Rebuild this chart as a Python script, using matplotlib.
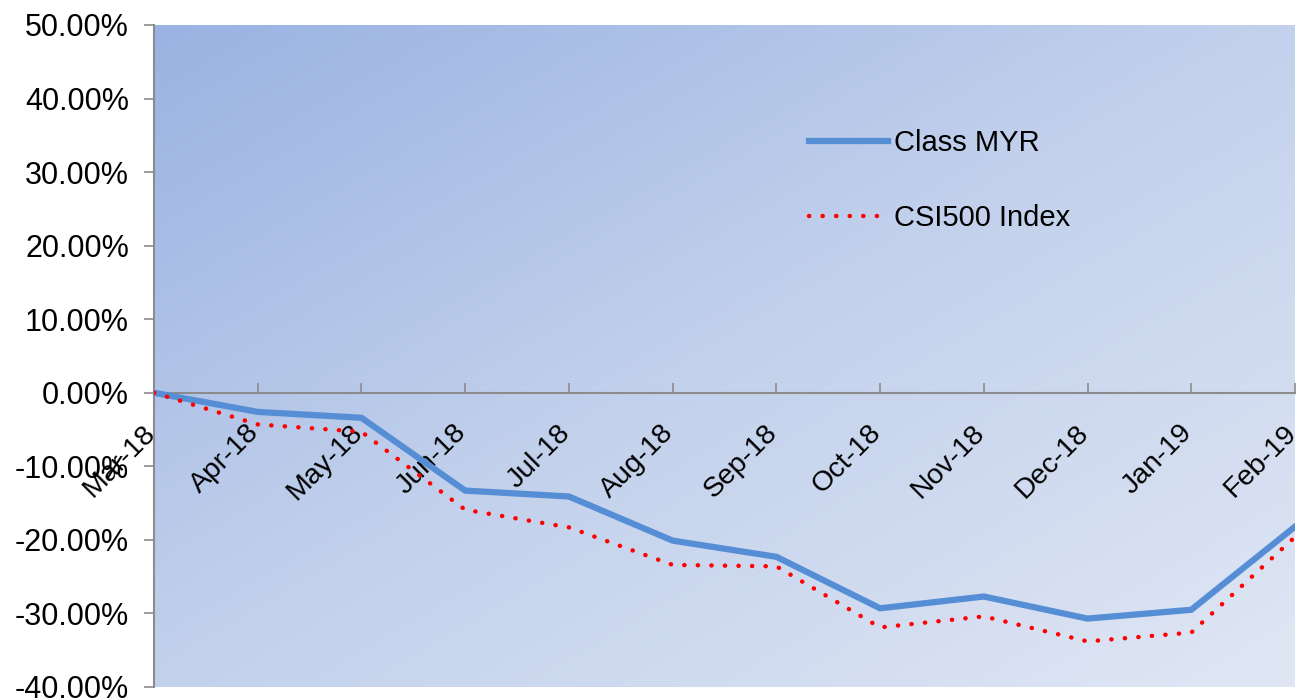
import numpy as np
import matplotlib
matplotlib.use("Agg")
import matplotlib.pyplot as plt
import matplotlib.transforms as mtransforms
from matplotlib.ticker import FuncFormatter
from matplotlib.colors import LinearSegmentedColormap

plt.rcParams['font.family'] = ['Liberation Sans', 'DejaVu Sans']
plt.rcParams['axes.unicode_minus'] = False

# data (percent)
MONTHS = ["Mar-18", "Apr-18", "May-18", "Jun-18", "Jul-18", "Aug-18",
          "Sep-18", "Oct-18", "Nov-18", "Dec-18", "Jan-19", "Feb-19"]
CLASS_MYR = [0.0, -2.6, -3.4, -13.3, -14.1, -20.1, -22.3, -29.3, -27.7, -30.7, -29.5, -18.2]
CSI500 = [0.0, -4.3, -5.3, -15.9, -18.3, -23.4, -23.6, -31.9, -30.4, -33.8, -32.6, -19.6]

fig = plt.figure(figsize=(13.01, 6.99), dpi=100)
ax = fig.add_axes([154/1301, 12/699, 1141/1301, 662/699])

# diagonal gradient background
cmap = LinearSegmentedColormap.from_list("bg", ["#9ab3e2", "#c3d1ec", "#e0e7f4"])
gx, gy = np.meshgrid(np.linspace(0, 1, 300), np.linspace(0, 1, 300))
grad = (gx + gy) / 2  # row 0 = top with origin='upper'
ax.imshow(grad, cmap=cmap, extent=[0, 1, 0, 1], transform=ax.transAxes,
          aspect='auto', origin='upper', zorder=0, interpolation='bilinear')

x = np.arange(len(MONTHS))
ax.plot(x, CLASS_MYR, color="#558ed5", lw=4.5, solid_joinstyle='miter',
        label="Class MYR", zorder=3)
ax.plot(x, CSI500, color="#ff0000", lw=3.2, linestyle=(0, (0.05, 3.0)),
        dash_capstyle='round', label="CSI500 Index", zorder=4)

ax.set_xlim(0, 11)
ax.set_ylim(-40, 50)

for s in ['top', 'right']:
    ax.spines[s].set_visible(False)
ax.spines['left'].set_color('#8c8c8c')
ax.spines['left'].set_linewidth(1.5)
ax.spines['bottom'].set_position(('data', 0))
ax.spines['bottom'].set_color('#8c8c8c')
ax.spines['bottom'].set_linewidth(1.5)
ax.spines['bottom'].set_zorder(2)

ax.tick_params(axis='y', direction='out', length=7, width=1.2, color='#8c8c8c',
               labelsize=22, pad=11)
ax.tick_params(axis='x', direction='in', length=7, width=1.2, color='#8c8c8c',
               pad=26)

ax.set_yticks(np.arange(-40, 51, 10))
ax.yaxis.set_major_formatter(FuncFormatter(lambda v, p: f"{v:.2f}%"))

ax.set_xticks(x)
ax.set_xticklabels(MONTHS, rotation=45, ha='right', va='center',
                   rotation_mode='anchor', fontsize=20.5)
shift = mtransforms.ScaledTranslation(-2/72, 0, fig.dpi_scale_trans)
for lab in ax.get_xticklabels():
    lab.set_transform(lab.get_transform() + shift)

ax.legend(loc='upper left', bbox_to_anchor=(0.551, 0.882), frameon=False,
          fontsize=21, handlelength=2.7, labelspacing=1.6, handletextpad=0.2)

fig.savefig("out.png", dpi=100)
